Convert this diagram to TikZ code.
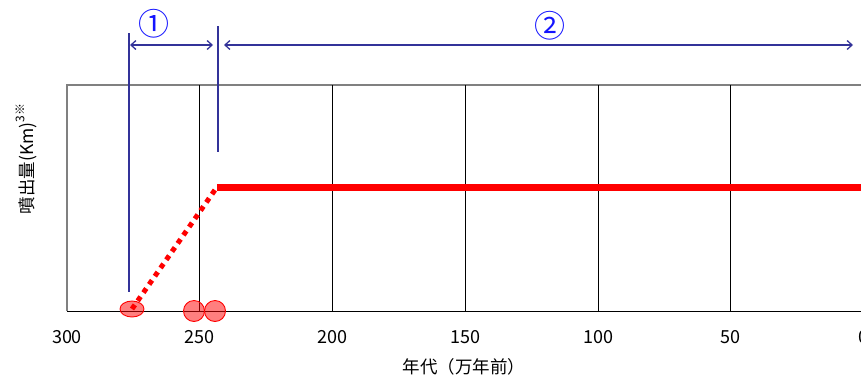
\documentclass[tikz,border=0pt]{standalone}
\usepackage{fontspec}
\setmainfont{Noto Sans CJK JP}
\usepackage{tikz}
\usetikzlibrary{arrows.meta,shapes.geometric}
\definecolor{PeriodBlue}{RGB}{51,51,153}
\definecolor{LabelBlue}{RGB}{20,20,255}

\begin{document}
\begin{tikzpicture}[x=1pt,y=-1pt,
  gridline/.style={black,line width=0.8pt},
  framegray/.style={gray,line width=1.5pt},
  periodline/.style={PeriodBlue,line width=1.6pt},
  periodarrow/.style={PeriodBlue,line width=1.3pt,{Straight Barb[length=5pt,width=9pt]}-{Straight Barb[length=5pt,width=9pt]}},
  erupt/.style={draw=red,fill=red,fill opacity=0.5,line width=0.9pt,inner sep=0pt},
  yearlbl/.style={font=\fontsize{18}{18}\selectfont},
  titlelbl/.style={font=\fontsize{17.5}{18}\selectfont},
  numlbl/.style={LabelBlue,font=\fontsize{31}{31}\selectfont}]
\useasboundingbox (0,0) rectangle (861,378);
% frame and grid
\draw[framegray] (67,311) -- (67,85) -- (861,85);
\foreach \v in {250,200,100,50}
  \draw[gridline] ({67+(300-\v)*2.655},85) -- ({67+(300-\v)*2.655},311);
\draw[gridline,line width=1.3pt] ({67+150*2.655},85) -- ({67+150*2.655},311);
\draw[gridline] (67,311) -- (861,311);
\foreach \v in {300,250,...,0}
  \node[yearlbl] (yr\v) at ({67+(300-\v)*2.655},337) {\v};
\node[titlelbl] (xtitle) at (464,367) {年代（万年前）};
\node[titlelbl,rotate=90] (ytitle) at (26,159)
  {噴出量(Km)\raisebox{0.9ex}{\fontsize{12}{12}\selectfont 3※}};
% eruptions
\node[erupt,ellipse,minimum width=24pt,minimum height=16pt] (erA) at (132,309) {};
\node[erupt,circle,minimum size=21pt] (erB) at (194,311) {};
\node[erupt,circle,minimum size=21pt] (erC) at (215,311) {};
\coordinate (knee) at (217,187);
\coordinate (flowend) at (861,187);
\draw[red,line width=5pt,dash pattern=on 5pt off 5pt] (erA.center) -- (knee);
\draw[red,line width=7pt] (knee) -- (flowend);
% periods
\coordinate (p1top) at (129,33);  \coordinate (p1bot) at (129,292);
\coordinate (p2top) at (218,26);  \coordinate (p2bot) at (218,152);
\draw[periodline] (p1top) -- (p1bot);
\draw[periodline] (p2top) -- (p2bot);
\coordinate (s1l) at (130,45); \coordinate (s1r) at (213,45);
\coordinate (s2l) at (224,45); \coordinate (s2r) at (853,45);
\draw[periodarrow] (s1l) -- (s1r);
\draw[periodarrow] (s2l) -- (s2r);
\node[numlbl] (num1) at (154,24) {①};
\node[numlbl] (num2) at (550,26) {②};
\end{tikzpicture}
\end{document}
